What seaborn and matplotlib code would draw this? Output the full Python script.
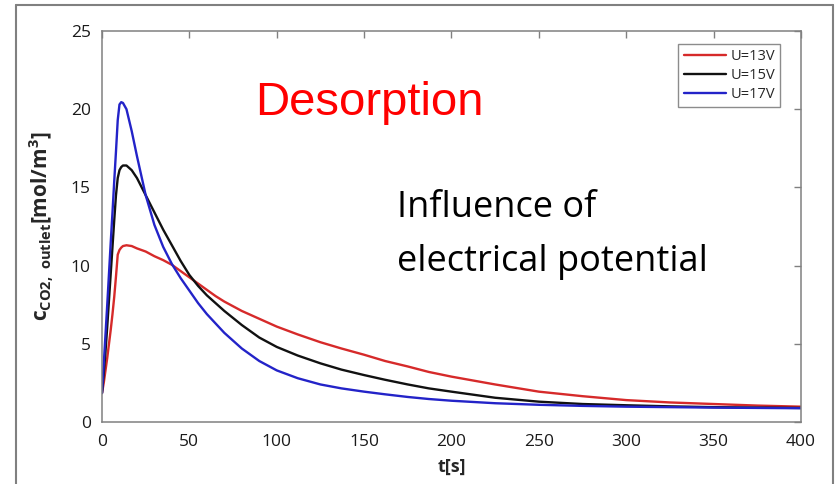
import matplotlib
matplotlib.use("Agg")
import matplotlib.pyplot as plt
from matplotlib.lines import Line2D
import pandas as pd
import seaborn as sns

# Outlet CO2 concentration during desorption, sampled times [s]
time_s = [0, 1, 2, 3, 4, 5, 6, 7, 8, 9, 10, 11, 12, 14, 17, 20, 25, 30, 35,
          40, 45, 50, 55, 60, 65, 70, 80, 90, 100, 112, 125, 137, 150, 162,
          175, 187, 200, 225, 250, 275, 300, 325, 350, 375, 400]

# Concentration [mol/m^3] for each applied voltage
c_13V = [1.85, 2.5, 3.3, 4.1, 5.0, 5.9, 6.9, 8.0, 9.3, 10.7, 11.0, 11.15,
         11.25, 11.3, 11.25, 11.1, 10.9, 10.6, 10.35, 10.05, 9.65, 9.25, 8.85,
         8.45, 8.05, 7.7, 7.1, 6.6, 6.1, 5.6, 5.1, 4.7, 4.3, 3.9, 3.55, 3.2,
         2.9, 2.4, 1.94, 1.65, 1.4, 1.25, 1.15, 1.05, 0.98]
c_15V = [1.85, 3.1, 4.5, 6.1, 7.8, 9.5, 11.2, 12.9, 14.5, 15.6, 16.1, 16.3,
         16.4, 16.4, 16.1, 15.6, 14.5, 13.4, 12.3, 11.3, 10.3, 9.4, 8.7, 8.1,
         7.6, 7.1, 6.2, 5.4, 4.8, 4.25, 3.75, 3.35, 3.0, 2.7, 2.4, 2.15, 1.94,
         1.55, 1.3, 1.15, 1.07, 1.0, 0.95, 0.92, 0.9]
c_17V = [1.85, 3.7, 5.6, 7.5, 9.5, 11.5, 13.4, 15.4, 17.3, 19.3, 20.3, 20.45,
         20.4, 20.0, 18.6, 17.0, 14.5, 12.6, 11.2, 10.1, 9.2, 8.4, 7.6, 6.9,
         6.3, 5.7, 4.7, 3.9, 3.3, 2.8, 2.4, 2.15, 1.94, 1.77, 1.6, 1.47, 1.36,
         1.2, 1.1, 1.03, 0.98, 0.95, 0.92, 0.9, 0.88]

series_labels = ["U=13V", "U=15V", "U=17V"]
series_colors = ["#d62a2a", "#111111", "#2323c8"]

x_ticks = [0, 50, 100, 150, 200, 250, 300, 350, 400]
y_ticks = [0, 5, 10, 15, 20, 25]

df = pd.concat([
    pd.DataFrame({"t": time_s, "c": vals, "U": lab})
    for vals, lab in zip([c_13V, c_15V, c_17V], series_labels)
], ignore_index=True)

sns.set_theme(style="white")
plt.rcParams["font.family"] = ["Open Sans", "DejaVu Sans"]
plt.rcParams["mathtext.fontset"] = "custom"
plt.rcParams["mathtext.bf"] = "Open Sans:bold"
plt.rcParams["mathtext.rm"] = "Open Sans"

W, H = 837, 484
fig = plt.figure(figsize=(W / 100, H / 100), dpi=100)
ax = fig.add_axes([102 / W, 1 - 422 / H, (801 - 102) / W, (422 - 31) / H])

sns.lineplot(data=df, x="t", y="c", hue="U", hue_order=series_labels,
             palette=dict(zip(series_labels, series_colors)),
             linewidth=1.7, ax=ax, legend=False)

ax.set_xlim(0, 400)
ax.set_ylim(0, 25)
ax.set_xticks(x_ticks)
ax.set_yticks(y_ticks)
ax.tick_params(direction="in", length=5, width=1, color="#808080",
               top=True, right=True, labelsize=12.5, labelcolor="#1a1a1a")
ax.tick_params(axis="x", pad=9)
ax.tick_params(axis="y", pad=8)
for sp in ax.spines.values():
    sp.set_color("#808080")
    sp.set_linewidth(1.1)

ax.set_xlabel("t[s]", fontsize=13, fontweight="bold", labelpad=5)
ax.set_ylabel(r"$\mathbf{c}_{\mathbf{CO2,\ outlet}}$[mol/m$^\mathbf{3}$]",
              fontsize=15, fontweight="bold", labelpad=11)

handles = [Line2D([0], [0], color=c, lw=1.7) for c in series_colors]
leg = ax.legend(handles, series_labels, loc="upper right",
                bbox_to_anchor=(0.970, 0.967), fontsize=10.5,
                frameon=True, fancybox=False, handlelength=2.9,
                handletextpad=0.3, labelspacing=0.28, borderpad=0.35,
                borderaxespad=0)
leg.get_frame().set_edgecolor("#707070")
leg.get_frame().set_linewidth(1.0)

# Annotations inside the plot area
fig.text(369 / W, 1 - 115 / H, "Desorption", color="#ff0000",
         fontsize=34, family=["Liberation Sans", "DejaVu Sans"],
         ha="center", va="baseline")
fig.text(397 / W, 1 - 217 / H, "Influence of", color="black",
         fontsize=26, family=["Open Sans", "DejaVu Sans"],
         ha="left", va="baseline")
fig.text(397 / W, 1 - 271 / H, "electrical potential", color="black",
         fontsize=26, family=["Open Sans", "DejaVu Sans"],
         ha="left", va="baseline")

# Slide-style frame around the figure
frame_kw = dict(transform=fig.transFigure, color="#808080", lw=1.5)
fig.add_artist(Line2D([16 / W, 16 / W], [0, 1 - 5 / H], **frame_kw))
fig.add_artist(Line2D([16 / W, 833 / W], [1 - 5 / H, 1 - 5 / H], **frame_kw))
fig.add_artist(Line2D([833 / W, 833 / W], [0, 1 - 5 / H], **frame_kw))

fig.savefig("out.png", dpi=100)
